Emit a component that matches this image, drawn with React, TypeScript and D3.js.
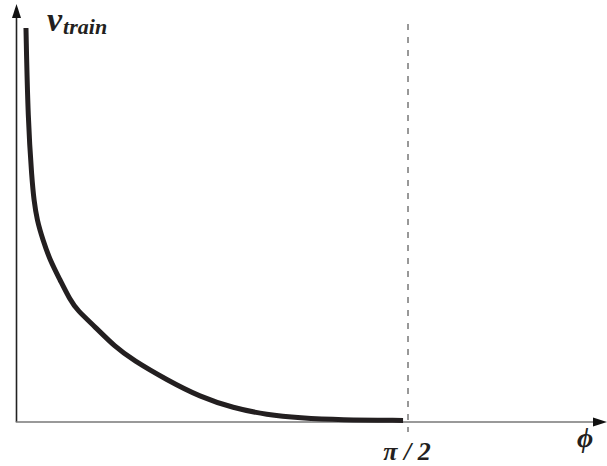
import React from 'react';
import * as d3 from 'd3';

// curve v_train(phi)
const phiValues = [0.038, 0.046, 0.062, 0.07, 0.082, 0.106, 0.134, 0.175, 0.215, 0.243, 0.315, 0.395, 0.467, 0.604, 0.736, 0.869, 1.005, 1.137, 1.298, 1.551];
const vValues = [9.85, 7.55, 6.05, 5.55, 5.05, 4.55, 4.05, 3.55, 3.05, 2.8, 2.38, 1.88, 1.55, 1.05, 0.63, 0.35, 0.18, 0.1, 0.05, 0.04];
const xTickLabel = 'π / 2';
const xTitle = 'ϕ';
const yTitle = 'v';
const yTitleSub = 'train';

const W = 607;
const H = 466;
const serif = 'Liberation Serif';

const App = () => {
  const x = d3.scaleLinear().domain([0, Math.PI / 2]).range([16.5, 408]);
  const y = d3.scaleLinear().domain([0, 10]).range([422, 22]);

  const pts: [number, number][] = phiValues.map((p, i) => [p, vValues[i]]);
  const line = d3.line<[number, number]>()
    .x(d => x(d[0]))
    .y(d => y(d[1]))
    .curve(d3.curveBasis);

  const x0 = x(0);
  const y0 = y(0);

  return (
    <svg width={W} height={H} style={{ position: 'absolute', left: 0, top: 0 }}>
      <rect width={W} height={H} fill="#fff" />
      {/* axes */}
      <line x1={x0} y1={y0} x2={x0} y2={16} stroke="#222" strokeWidth={1.6} />
      <path d={`M${x0},4 L${x0 - 4.5},18 L${x0 + 4.5},18 Z`} fill="#111" />
      <line x1={x0 - 0.8} y1={y0} x2={W - 12} y2={y0} stroke="#777" strokeWidth={1.6} />
      <path d={`M${W},${y0} L${W - 14},${y0 - 4.5} L${W - 14},${y0 + 4.5} Z`} fill="#111" />
      {/* pi/2 marker */}
      <line x1={x(Math.PI / 2)} y1={24} x2={x(Math.PI / 2)} y2={432} stroke="#333" strokeWidth={1} strokeDasharray="6,7" />
      {/* curve */}
      <path d={line(pts) ?? ''} fill="none" stroke="#231f20" strokeWidth={5} strokeLinecap="butt" />
      {/* labels */}
      <text x={47} y={31} fontFamily={serif} fontStyle="italic" fontWeight="bold" fontSize={34} fill="#231f20">
        {yTitle}
        <tspan dx={1} dy={3} fontSize={22}>{yTitleSub}</tspan>
      </text>
      <text x={407} y={460} textAnchor="middle" fontFamily={serif} fontStyle="italic" fontWeight="bold" fontSize={26} fill="#231f20">
        {xTickLabel}
      </text>
      <text x={585} y={447} textAnchor="middle" fontFamily={serif} fontStyle="italic" fontWeight="bold" fontSize={28} fill="#231f20">
        {xTitle}
      </text>
    </svg>
  );
};

export default App;
